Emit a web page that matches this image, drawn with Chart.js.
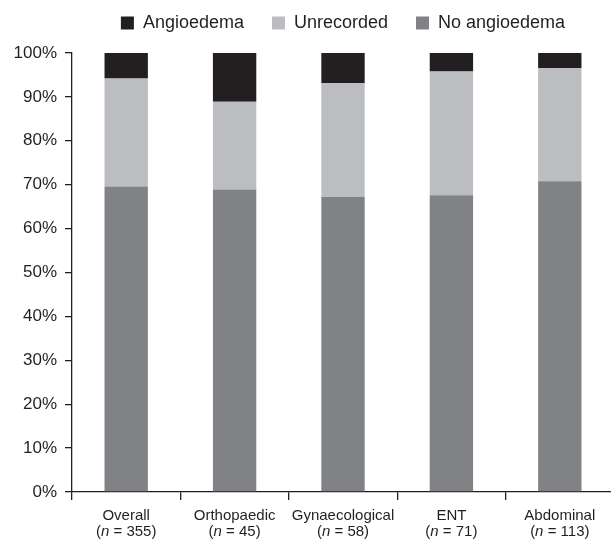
<!DOCTYPE html>
<html>
<head>
<meta charset="utf-8">
<script src="https://cdn.jsdelivr.net/npm/chart.js@4"></script>
<style>
  html, body { margin: 0; padding: 0; background: #fff; overflow: hidden; }
  #wrap { width: 614px; height: 542px; }
</style>
</head>
<body>
<div id="wrap"><canvas id="chart"></canvas></div>
<script>
const categories = ['Overall', 'Orthopaedic', 'Gynaecological', 'ENT', 'Abdominal'];
const sampleSizes = [355, 45, 58, 71, 113];
const noAngioedema = [69.6, 68.9, 67.2, 67.6, 70.8];
const unrecorded = [24.6, 20.0, 25.9, 28.2, 25.7];
const angioedema = [5.8, 11.1, 6.9, 4.2, 3.5];
const yTicks = [0, 10, 20, 30, 40, 50, 60, 70, 80, 90, 100];

const FONT = "'Liberation Sans', Arial, sans-serif";
const INK = '#231f20';

// two-line category labels, with an italic n
const xLabels = {
  id: 'xLabels',
  afterDraw(chart) {
    const { ctx, scales: { x } } = chart;
    ctx.save();
    ctx.fillStyle = INK;
    ctx.textBaseline = 'middle';
    ctx.textAlign = 'left';
    categories.forEach((cat, i) => {
      const cx = x.getPixelForValue(i);
      const y1 = x.top + 24;
      const y2 = y1 + 16;
      ctx.font = '15px ' + FONT;
      ctx.fillText(cat, cx - ctx.measureText(cat).width / 2, y1);
      const a = '(', b = ' = ' + sampleSizes[i] + ')';
      const wa = ctx.measureText(a).width, wb = ctx.measureText(b).width;
      ctx.font = 'italic 15px ' + FONT;
      const wn = ctx.measureText('n').width;
      let px = cx - (wa + wn + wb) / 2;
      ctx.font = '15px ' + FONT;
      ctx.fillText(a, px, y2); px += wa;
      ctx.font = 'italic 15px ' + FONT;
      ctx.fillText('n', px, y2); px += wn;
      ctx.font = '15px ' + FONT;
      ctx.fillText(b, px, y2);
    });
    ctx.restore();
  }
};

new Chart(document.getElementById('chart'), {
  type: 'bar',
  data: {
    labels: categories,
    datasets: [
      { label: 'No angioedema', data: noAngioedema, backgroundColor: '#808285' },
      { label: 'Unrecorded', data: unrecorded, backgroundColor: '#bcbdc0' },
      { label: 'Angioedema', data: angioedema, backgroundColor: INK }
    ]
  },
  options: {
    responsive: true,
    maintainAspectRatio: false,
    animation: false,
    barPercentage: 0.4,
    categoryPercentage: 1,
    layout: { padding: { top: -14, left: 0, right: 0, bottom: 0 } },
    plugins: {
      legend: {
        display: true,
        reverse: true,
        fullSize: false,
        weight: 3000,
        labels: {
          color: INK,
          font: { family: FONT, size: 18, lineHeight: 2.05 },
          boxWidth: 13,
          boxHeight: 13,
          padding: 28
        }
      },
      // empty title used only as a gap between legend and plot
      title: {
        display: true,
        text: '',
        font: { size: 1, lineHeight: 1 },
        padding: { top: 0, bottom: 10 }
      },
      tooltip: { enabled: false }
    },
    scales: {
      x: {
        stacked: true,
        border: { display: true, color: INK, width: 1.3 },
        grid: { display: true, offset: true, drawOnChartArea: false, drawTicks: true, tickLength: 8, color: INK, lineWidth: 1.3 },
        ticks: { display: true, color: 'transparent', font: { size: 15 } },
        afterFit: s => { s.height = 50; }
      },
      y: {
        stacked: true,
        min: 0,
        max: 100,
        afterBuildTicks: s => { s.ticks = yTicks.map(v => ({ value: v })); },
        border: { display: true, color: INK, width: 1.3 },
        grid: { display: true, drawOnChartArea: false, drawTicks: true, tickLength: 7, color: INK, lineWidth: 1.3 },
        ticks: {
          color: INK,
          padding: 8,
          font: { family: FONT, size: 17 },
          callback: v => v + '%'
        },
        afterFit: s => { s.width = 72; }
      }
    }
  },
  plugins: [xLabels]
});
</script>
</body>
</html>
